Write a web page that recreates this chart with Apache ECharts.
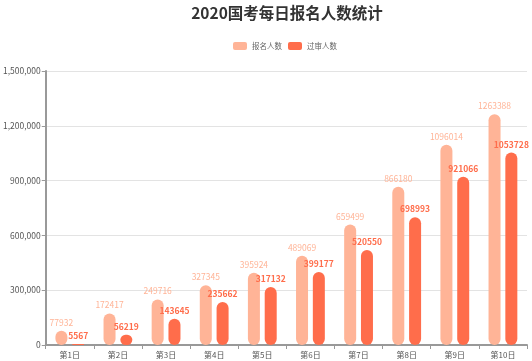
<!DOCTYPE html>
<html><head><meta charset="utf-8">
<script src="https://cdn.jsdelivr.net/npm/echarts@6/dist/echarts.min.js"></script>
<style>html,body{margin:0;padding:0;background:#fff}#c{width:532px;height:361px}</style>
</head><body><div id="c"></div>
<script>
const categories = ['第1日','第2日','第3日','第4日','第5日','第6日','第7日','第8日','第9日','第10日'];
const signupCounts = [77932,172417,249716,327345,395924,489069,659499,866180,1096014,1263388];
const passedCounts = [5567,56219,143645,235662,317132,399177,520550,698993,921066,1053728];
const seriesNames = ['报名人数','过审人数'];
const FONT = '"Noto Sans CJK SC","Noto Sans",sans-serif';
const chart = echarts.init(document.getElementById('c'), null, {renderer:'canvas'});
chart.setOption({
  animation:false,
  textStyle:{fontFamily:FONT},
  title:{text:'2020国考每日报名人数统计', left:282, textAlign:'center', top:0,
    textStyle:{fontSize:15.5, fontWeight:'bold', color:'#333', fontFamily:FONT}},
  legend:{data:seriesNames, top:37, left:228, itemWidth:14, itemHeight:8, itemGap:6,
    textStyle:{fontSize:7.5, color:'#666', fontFamily:FONT}},
  grid:{left:45, right:5, top:71, bottom:16, containLabel:false},
  xAxis:{type:'category', data:categories,
    axisLine:{lineStyle:{color:'#999', width:2}},
    axisTick:{show:true, length:4, lineStyle:{color:'#999'}},
    axisLabel:{fontSize:8, color:'#555', margin:6, fontFamily:FONT}},
  yAxis:{type:'value', min:0, max:1500000, interval:300000,
    axisLine:{show:true, lineStyle:{color:'#999', width:2}},
    axisTick:{show:true, length:4, lineStyle:{color:'#999'}},
    axisLabel:{fontSize:8.5, color:'#555', margin:5, fontFamily:FONT,
      formatter:v=>v.toLocaleString('en-US')},
    splitLine:{lineStyle:{color:'#e3e3e3'}}},
  series:[
    {name:seriesNames[0], type:'bar', data:signupCounts, barWidth:12, barGap:'40%',
      itemStyle:{color:'#FFB497', borderRadius:6},
      label:{show:true, position:'top', distance:4, fontSize:8.5, color:'#FFB497', fontFamily:FONT}},
    {name:seriesNames[1], type:'bar', data:passedCounts, barWidth:12,
      itemStyle:{color:'#FF6D4B', borderRadius:6},
      label:{show:true, position:'top', distance:4, fontSize:8.5, fontWeight:'bold', color:'#FF6D4B', fontFamily:FONT}}
  ]
});
</script></body></html>
